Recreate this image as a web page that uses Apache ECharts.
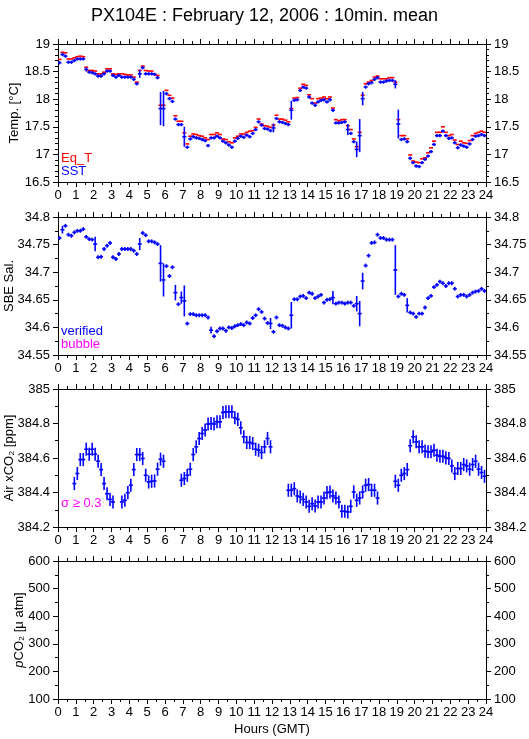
<!DOCTYPE html>
<html><head><meta charset="utf-8">
<script src="https://cdn.jsdelivr.net/npm/echarts@6/dist/echarts.min.js"></script>
<style>html,body{margin:0;padding:0;background:#fff}#c{width:529px;height:739px}</style>
</head><body><div id="c"></div>
<script>
// 10-minute intervals, value index i covers hours [i/6, (i+1)/6]
const eqT = [18.72,18.85,18.84,18.73,18.73,18.75,18.77,18.78,18.77,18.58,18.52,18.52,18.51,18.46,18.46,18.49,18.55,18.55,18.46,18.45,18.46,18.46,18.45,18.44,18.44,18.40,18.31,18.52,18.60,18.52,18.51,18.51,18.45,18.43,17.89,17.89,18.16,18.07,18.02,17.70,17.60,17.60,17.39,17.19,17.33,17.37,17.36,17.34,17.33,17.30,17.27,17.36,17.36,17.39,17.36,17.28,17.27,17.23,17.21,17.30,17.33,17.37,17.37,17.40,17.42,17.43,17.49,17.64,17.55,17.52,17.51,17.49,17.53,17.71,17.64,17.64,17.62,17.59,17.83,18.02,18.03,18.20,18.27,18.25,18.08,18.01,17.93,18.01,18.02,18.04,18.01,18.04,17.84,17.63,17.61,17.63,17.63,17.52,17.45,17.28,17.14,17.40,18.07,18.28,18.31,18.34,18.40,18.42,18.37,18.37,18.37,18.39,18.39,18.31,17.63,17.34,17.34,17.28,16.99,16.88,16.86,16.85,16.92,16.94,17.03,17.12,17.24,17.40,17.40,17.50,17.40,17.34,17.36,17.26,17.18,17.24,17.21,17.20,17.25,17.34,17.38,17.40,17.42,17.40];
const sst = [18.66,18.81,18.78,18.67,18.67,18.70,18.73,18.73,18.73,18.54,18.49,18.48,18.46,18.42,18.42,18.46,18.51,18.51,18.43,18.40,18.43,18.40,18.40,18.40,18.40,18.36,18.28,18.46,18.57,18.46,18.46,18.46,18.45,18.39,17.83,17.83,18.10,18.01,17.96,17.64,17.54,17.54,17.32,17.13,17.28,17.32,17.30,17.29,17.27,17.25,17.16,17.30,17.30,17.33,17.30,17.24,17.21,17.17,17.13,17.24,17.29,17.33,17.31,17.35,17.32,17.38,17.45,17.59,17.53,17.47,17.46,17.43,17.48,17.65,17.59,17.58,17.56,17.54,17.80,17.98,17.99,18.16,18.22,18.20,18.04,17.93,17.89,17.95,17.98,17.99,17.95,17.99,17.80,17.57,17.57,17.58,17.59,17.45,17.38,17.23,17.09,17.34,18.01,18.22,18.28,18.30,18.36,18.39,18.31,18.31,18.33,18.34,18.34,18.27,17.55,17.27,17.28,17.23,16.93,16.85,16.79,16.78,16.85,16.91,16.97,17.05,17.18,17.34,17.34,17.42,17.34,17.29,17.30,17.21,17.12,17.17,17.15,17.13,17.19,17.27,17.33,17.34,17.36,17.34];
const sstSdDefault = 0.03;
const sstSdLarge = {9:0.04,27:0.075,34:0.30,35:0.32,42:0.18,72:0.08,78:0.17,97:0.10,100:0.14,101:0.30,102:0.12,113:0.075,114:0.26};

const sal = [34.762,34.777,34.784,34.768,34.766,34.772,34.775,34.775,34.778,34.764,34.760,34.759,34.751,34.727,34.728,34.742,34.748,34.753,34.727,34.724,34.733,34.742,34.742,34.742,34.742,34.739,34.733,34.751,34.771,34.767,34.756,34.756,34.754,34.751,34.716,34.686,34.711,34.693,34.709,34.663,34.642,34.654,34.648,34.607,34.624,34.624,34.622,34.622,34.622,34.622,34.618,34.595,34.584,34.593,34.598,34.598,34.594,34.600,34.599,34.602,34.604,34.606,34.604,34.609,34.607,34.617,34.622,34.633,34.628,34.616,34.608,34.607,34.592,34.618,34.604,34.603,34.600,34.598,34.622,34.651,34.651,34.656,34.657,34.653,34.663,34.661,34.653,34.656,34.659,34.645,34.650,34.651,34.654,34.643,34.645,34.645,34.643,34.645,34.645,34.639,34.643,34.625,34.684,34.712,34.730,34.753,34.754,34.768,34.762,34.762,34.759,34.759,34.759,34.704,34.656,34.661,34.659,34.640,34.627,34.625,34.619,34.625,34.625,34.636,34.653,34.657,34.673,34.677,34.683,34.680,34.675,34.680,34.680,34.670,34.656,34.659,34.659,34.656,34.659,34.663,34.665,34.666,34.670,34.666];
const salSdDefault = 0.0035;
const salSdLarge = {1:0.007,12:0.013,27:0.011,34:0.033,35:0.030,39:0.014,41:0.011,42:0.028,51:0.006,71:0.010,78:0.024,92:0.012,100:0.014,101:0.023,102:0.015,113:0.045,117:0.013};

const xco2 = [null,null,null,null,null,384.452,384.510,384.591,384.591,384.651,384.622,384.651,384.622,384.581,384.533,384.452,384.393,384.360,384.345,null,null,384.345,384.355,384.399,384.442,384.533,384.620,384.620,384.597,384.500,384.461,384.465,384.467,384.535,384.593,384.581,null,null,null,null,null,384.471,384.481,384.500,384.535,384.620,384.665,384.713,384.742,384.762,384.797,384.800,384.797,384.810,384.810,384.864,384.868,384.868,384.868,384.833,384.824,384.775,384.723,384.690,384.690,384.684,384.651,384.645,384.632,384.665,384.713,384.665,null,null,null,null,null,384.413,384.413,384.422,384.380,384.374,384.360,384.345,384.320,384.335,384.322,384.345,384.345,384.368,384.399,384.403,384.380,384.368,384.345,384.291,384.291,384.287,384.320,384.403,384.355,384.368,384.403,384.442,384.446,384.413,384.413,384.368,null,null,null,null,null,384.465,384.442,384.500,384.510,384.533,384.671,384.723,384.694,384.665,384.665,384.640,384.636,384.636,384.645,384.616,384.610,384.610,384.601,384.597,384.554,384.510,384.539,384.539,384.562,384.554,384.535,384.562,384.581,384.535,384.516,384.494];
const xco2Sd = 0.038;

const hourTicks = ['0','1','2','3','4','5','6','7','8','9','10','11','12','13','14','15','16','17','18','19','20','21','22','23','24'];
const axisNames = ['Temp. [°C]', 'SBE Sal.', 'Air xCO₂ [ppm]', '{i|p}CO₂ [μ atm]'];

function build(vals, sdDefault, sdLarge) {
  return vals.map((v, i) => [(i + 0.5) / 6, v, (sdLarge && sdLarge[i] != null) ? sdLarge[i] : sdDefault]);
}

function renderer(color, showBar) {
  return function (params, api) {
    const y = api.value(1);
    if (y == null || isNaN(y)) return null;
    const x = api.value(0), e = api.value(2);
    const p0 = api.coord([x - 1 / 12, y]);
    const p1 = api.coord([x + 1 / 12, y]);
    const ch = [{type: 'line', shape: {x1: p0[0] - 0.5, y1: p0[1], x2: p1[0] + 0.5, y2: p1[1]}, style: {stroke: color, lineWidth: 1.6}}];
    if (showBar && e) {
      const a = api.coord([x, y + e]), b = api.coord([x, y - e]);
      ch.push({type: 'line', shape: {x1: a[0], y1: a[1], x2: b[0], y2: b[1]}, style: {stroke: color, lineWidth: 1.6}});
    }
    return {type: 'group', children: ch};
  };
}

const FONT = 'Liberation Sans, Arial, Helvetica, sans-serif';
const tops = [44, 217, 389, 561];
const nameX = [14, 9, 9, 19];
const H = 138;
const grids = tops.map(t => ({left: 58, width: 428, top: t, height: H, show: false, containLabel: false, outerBoundsMode: 'none'}));

const xAxes = [];
tops.forEach((t, k) => {
  const common = {gridIndex: k, type: 'value', min: 0, max: 24, interval: 1,
    axisLine: {show: true, onZero: false, lineStyle: {color: '#000', width: 1}},
    axisTick: {show: true, length: 5, lineStyle: {color: '#000'}},
    minorTick: {show: true, splitNumber: 2, length: 3, lineStyle: {color: '#000'}},
    splitLine: {show: false}};
  xAxes.push(Object.assign({}, common, {position: 'bottom',
    axisLabel: {show: true, fontSize: 13, color: '#000', fontFamily: FONT, margin: 7, formatter: v => hourTicks[v]},
    name: k === 3 ? 'Hours (GMT)' : '', nameLocation: 'middle', nameGap: 24,
    nameTextStyle: {fontSize: 13, color: '#000', fontFamily: FONT}}));
  xAxes.push(Object.assign({}, common, {position: 'top', axisLabel: {show: false}}));
});

const yDefs = [
  {min: 16.5, max: 19, interval: 0.5, minor: 5, fmt: v => String(+v.toFixed(1))},
  {min: 34.55, max: 34.8, interval: 0.05, minor: 2, fmt: v => String(+v.toFixed(2))},
  {min: 384.2, max: 385, interval: 0.2, minor: 2, fmt: v => String(+v.toFixed(1))},
  {min: 100, max: 600, interval: 100, minor: 2, fmt: v => String(v)}
];
const yAxes = [];
yDefs.forEach((d, k) => {
  const common = {gridIndex: k, type: 'value', min: d.min, max: d.max, interval: d.interval,
    axisLine: {show: true, onZero: false, lineStyle: {color: '#000', width: 1}},
    axisTick: {show: true, length: 5, lineStyle: {color: '#000'}},
    minorTick: {show: true, splitNumber: d.minor, length: 3, lineStyle: {color: '#000'}},
    splitLine: {show: false},
    axisLabel: {show: true, fontSize: 13, color: '#000', fontFamily: FONT, margin: 8, formatter: d.fmt}};
  yAxes.push(Object.assign({}, common, {position: 'left'}));
  yAxes.push(Object.assign({}, common, {position: 'right'}));
});

const series = [
  {type: 'custom', name: 'Eq_T', xAxisIndex: 0, yAxisIndex: 0, renderItem: renderer('#ff0000', false), data: build(eqT, 0), encode: {x: 0, y: 1}, clip: true, z: 2},
  {type: 'custom', name: 'SST', xAxisIndex: 0, yAxisIndex: 0, renderItem: renderer('#0000ff', true), data: build(sst, sstSdDefault, sstSdLarge), encode: {x: 0, y: 1}, clip: true, z: 3},
  {type: 'custom', name: 'Sal', xAxisIndex: 2, yAxisIndex: 2, renderItem: renderer('#0000ff', true), data: build(sal, salSdDefault, salSdLarge), encode: {x: 0, y: 1}, clip: true, z: 3},
  {type: 'custom', name: 'xCO2', xAxisIndex: 4, yAxisIndex: 4, renderItem: renderer('#0000ff', true), data: build(xco2, xco2Sd), encode: {x: 0, y: 1}, clip: true, z: 3}
];

const txt = (x, y, text, color, size) => ({type: 'text', left: x, top: y, style: {text: text, fill: color, font: (size || 13) + 'px ' + FONT}});
const vname = (k) => ({type: 'text', x: nameX[k], y: tops[k] + H / 2, rotation: Math.PI / 2,
  style: {text: axisNames[k], fill: '#000', font: '13px ' + FONT, align: 'center', verticalAlign: 'middle',
    rich: {i: {fontStyle: 'italic', fontSize: 13, fontFamily: FONT, fill: '#000'}}}});

const chart = echarts.init(document.getElementById('c'), null, {renderer: 'canvas'});
chart.setOption({
  animation: false,
  backgroundColor: '#fff',
  title: {text: 'PX104E : February 12, 2006 : 10min. mean', left: 'center', top: 2,
    textStyle: {fontSize: 18, fontWeight: 'normal', color: '#000', fontFamily: FONT}},
  grid: grids, xAxis: xAxes, yAxis: yAxes, series: series,
  graphic: [
    vname(0), vname(1), vname(2), vname(3),
    txt(61, 152, 'Eq_T', '#ff0000'),
    txt(61, 165, 'SST', '#0000ff'),
    txt(61, 325, 'verified', '#0000ff'),
    txt(61, 338, 'bubble', '#ff00ff'),
    txt(61, 497, 'σ ≥ 0.3', '#ff00ff')
  ]
});
</script></body></html>
